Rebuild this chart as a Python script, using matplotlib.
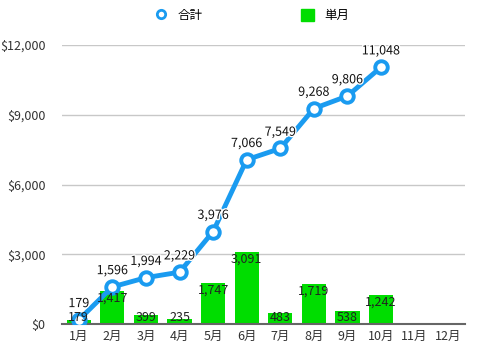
import matplotlib
matplotlib.use('Agg')
import matplotlib.pyplot as plt
import matplotlib.patheffects as pe
from matplotlib.ticker import FuncFormatter
from matplotlib.lines import Line2D
from matplotlib.patches import Patch

plt.rcParams['font.family'] = ['Noto Sans CJK JP', 'DejaVu Sans']

months = ['1月', '2月', '3月', '4月', '5月', '6月', '7月', '8月', '9月', '10月', '11月', '12月']
monthly = [179, 1417, 399, 235, 1747, 3091, 483, 1719, 538, 1242]
total = [179, 1596, 1994, 2229, 3976, 7066, 7549, 9268, 9806, 11048]

blue = '#1a9bf0'
green = '#00dd00'

fig = plt.figure(figsize=(4.8, 3.51), dpi=100)
ax = fig.add_axes([62 / 480, 1 - 324 / 351, 403 / 480, 279 / 351])

x = list(range(len(monthly)))
ax.bar(x, monthly, width=0.72, color=green, zorder=2)
ax.plot(x, total, color=blue, lw=3.5, marker='o', ms=9, mfc='white', mec=blue, mew=2.8, zorder=3)

# bar labels sit just inside the bar top, but never sink into the axis
halo = [pe.withStroke(linewidth=2, foreground='white')]
for i, v in enumerate(monthly):
    ax.text(i, max(v - 300, 260), f'{v:,}', ha='center', va='center',
            fontsize=9, color='#222222', zorder=4)
for i, v in enumerate(total):
    ax.annotate(f'{v:,}', (i, v), xytext=(0, 7), textcoords='offset points',
                ha='center', va='bottom', fontsize=9, color='#111111', zorder=5,
                path_effects=halo)

ax.set_xlim(-0.5, 11.5)
ax.set_ylim(0, 12000)
ax.set_xticks(range(12))
ax.set_xticklabels(months)
ax.set_yticks([0, 3000, 6000, 9000, 12000])
ax.yaxis.set_major_formatter(FuncFormatter(lambda v, p: f'${int(v):,}'))
ax.tick_params(length=0, labelsize=9, colors='#333333')
ax.tick_params(axis='y', pad=12)
ax.tick_params(axis='x', pad=4)
ax.grid(axis='y', color='#c8c8c8', lw=1, zorder=0)
for s in ['top', 'right', 'left']:
    ax.spines[s].set_visible(False)
ax.spines['bottom'].set_color('#666666')
ax.spines['bottom'].set_linewidth(1.5)

handles = [Line2D([], [], color=blue, marker='o', ls='none', ms=6, mfc='white', mew=2),
           Patch(color=green)]
fig.legend(handles, ['合計', '単月'], loc='center', bbox_to_anchor=(0.525, 0.955),
           ncol=2, frameon=False, fontsize=9, columnspacing=7.9, handlelength=1, handleheight=1)

fig.savefig('out.png', dpi=100)
